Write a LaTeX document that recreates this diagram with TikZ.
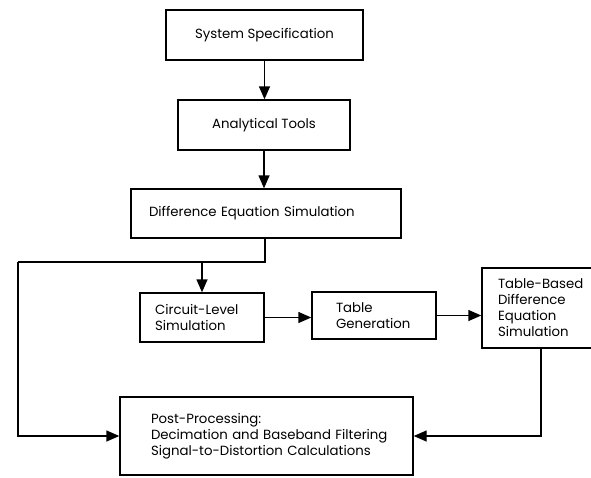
\documentclass[tikz,border=0pt]{standalone}
\usepackage{fontspec}
\setmainfont{Poppins}
\usetikzlibrary{arrows.meta}
\begin{document}
\begin{tikzpicture}[x=1pt,y=-1pt,
  box/.style={draw,line width=1.4pt,inner ysep=0pt,font=\fontsize{13.3}{16}\selectfont},
  arr/.style={line width=1.4pt,-{Triangle[length=13pt,width=11pt]}},
  ln/.style={line width=1.4pt}]
\useasboundingbox (0,0) rectangle (591,477);
% boxes: given by corners in pixel coordinates
\node[box,minimum width=197pt,minimum height=50pt] (b1) at (264.5,35) {System Specification};
\node[box,minimum width=172pt,minimum height=50pt] (b2) at (264,125) {Analytical Tools};
\node[box,minimum width=270pt,minimum height=49pt,inner xsep=18pt,text width=234pt,align=left] (b3) at (266,213.5) {Difference Equation Simulation};
\node[box,minimum width=124pt,minimum height=49pt,inner xsep=15pt,text width=94pt,align=left] (b4) at (202,317.5) {Circuit-Level\\Simulation};
\node[box,minimum width=124pt,minimum height=47pt,inner xsep=24pt,text width=76pt,align=left] (b5) at (374,315.5) {Table\\\mbox{Generation}};
\node[box,minimum width=118pt,minimum height=80pt,inner xsep=16pt,text width=86pt,align=left] (b6) at (541,308) {\mbox{Table-Based}\\Difference\\Equation\\Simulation};
\node[box,minimum width=293pt,minimum height=78pt,inner xsep=31pt,text width=231pt,align=left] (b7) at (266.5,436) {Post-Processing:\\\mbox{Decimation and Baseband Filtering}\\\mbox{Signal-to-Distortion Calculations}};
% junctions
\coordinate (j) at (265,262);
\coordinate (jl) at (18,262);
\coordinate (jb) at (18,436);
\coordinate (k) at (541,436);
% connectors
\draw[arr] (b1.south) -- (b1.south |- b2.north);
\draw[arr] (b2.south) -- (b2.south |- b3.north);
\draw[ln] (b3.south -| j) -- (j) -- (jl);
\draw[arr] (jl) -- (jb) -- (b7.west);
\draw[arr] (b4.north |- j) -- (b4.north);
\draw[arr] (b4.east) -- (b4.east -| b5.west);
\draw[arr] (b5.east) -- (b5.east -| b6.west);
\draw[arr] (b6.south -| k) -- (k) -- (b7.east);
\end{tikzpicture}
\end{document}
